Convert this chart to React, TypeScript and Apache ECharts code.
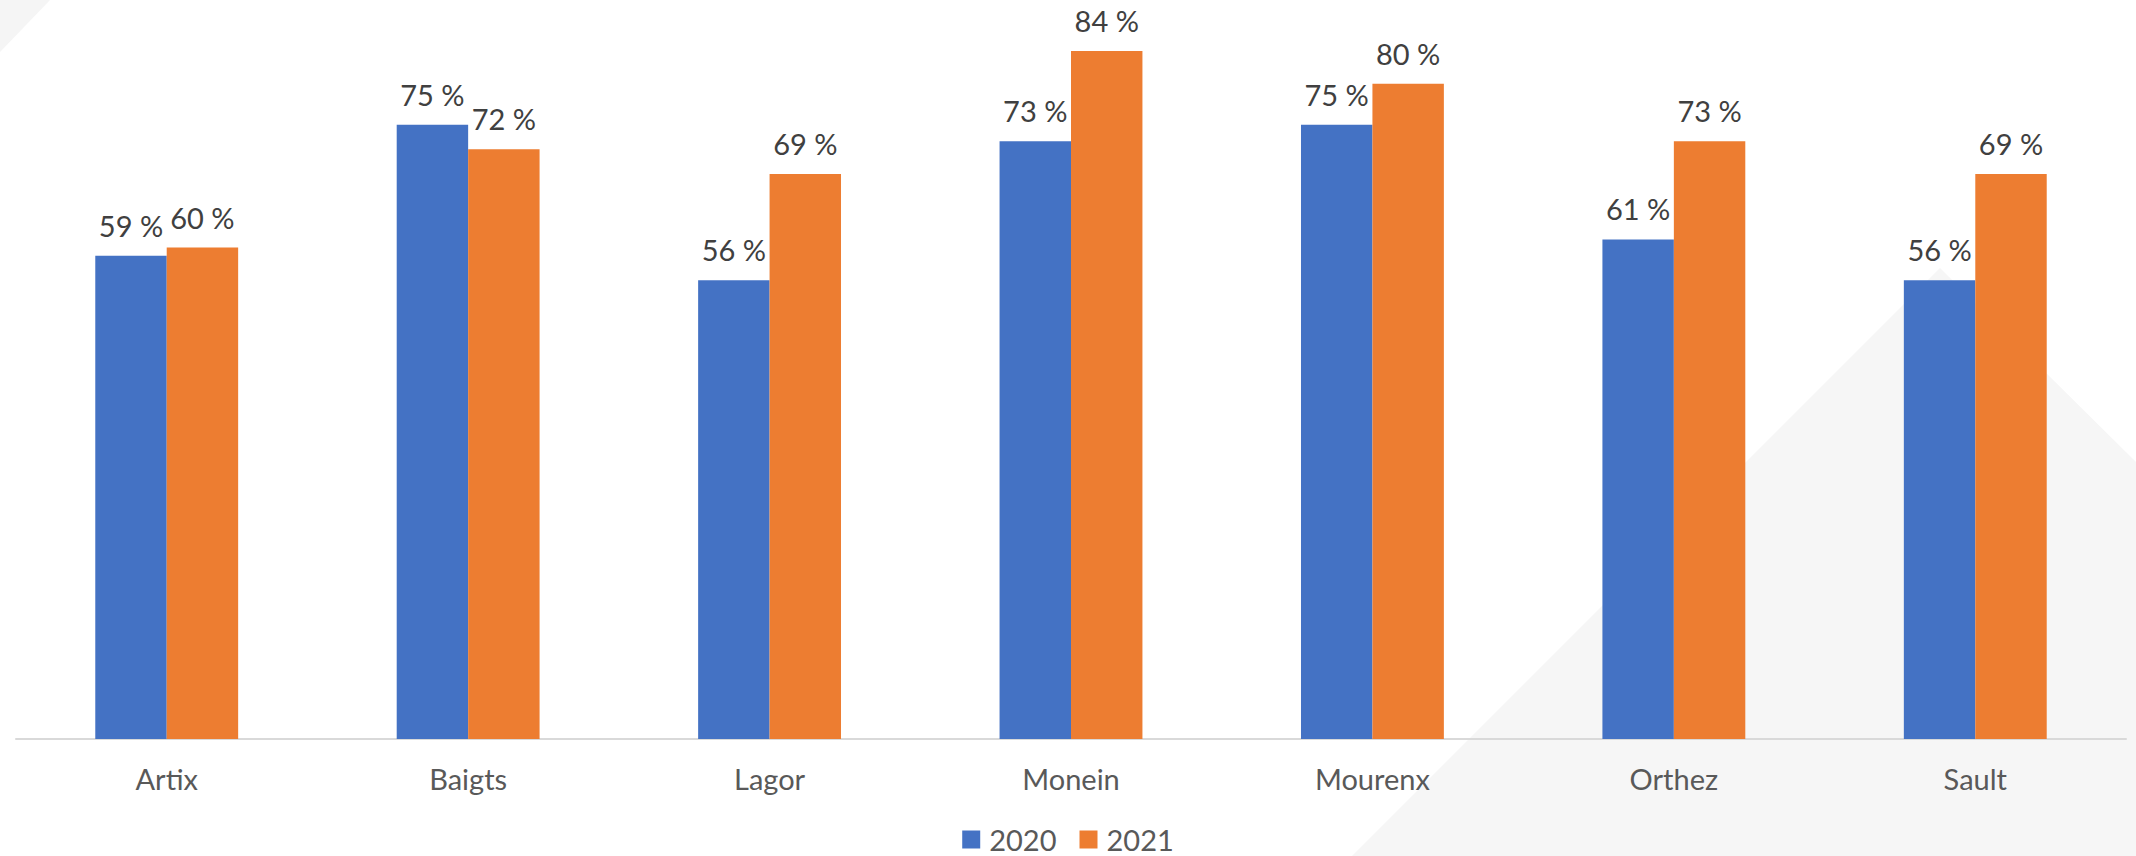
import React, { useEffect, useRef } from "react";
import * as echarts from "echarts";

const categories = ["Artix", "Baigts", "Lagor", "Monein", "Mourenx", "Orthez", "Sault"];
const values2020 = [59, 75, 56, 73, 75, 61, 56];
const values2021 = [60, 72, 69, 84, 80, 73, 69];
const seriesNames = ["2020", "2021"];

const FONT = "Lato, 'Noto Sans', sans-serif";

export default function App() {
  const ref = useRef<HTMLDivElement>(null);

  useEffect(() => {
    if (!ref.current) return;
    const chart = echarts.init(ref.current, null, { renderer: "svg" });
    const labelCfg = {
      show: true,
      position: "top",
      distance: 16,
      formatter: "{c} %",
      color: "#404040",
      fontSize: 29,
      fontFamily: FONT,
    };
    chart.setOption({
      animation: false,
      backgroundColor: "#ffffff",
      textStyle: { fontFamily: FONT },
      graphic: [
        {
          type: "polygon",
          z: 0,
          silent: true,
          shape: { points: [[0, 0], [50, 0], [0, 52]] },
          style: { fill: "#f5f5f5" },
        },
        {
          type: "polygon",
          z: 0,
          silent: true,
          shape: { points: [[1940, 268], [2136, 462], [2136, 856], [1352, 856]] },
          style: { fill: "#f6f6f6" },
        },
      ],
      grid: { left: 16, right: 10, top: 1.9, bottom: 117, containLabel: false },
      legend: {
        data: seriesNames,
        left: "center",
        top: 820,
        icon: "rect",
        itemWidth: 18,
        itemHeight: 18,
        itemGap: 23,
        textStyle: {
          color: "#595959",
          fontSize: 29,
          fontFamily: FONT,
          padding: [0, 0, 0, 4],
        },
      },
      xAxis: {
        type: "category",
        data: categories,
        axisLine: { show: true, lineStyle: { color: "#d9d9d9", width: 2 } },
        axisTick: { show: false },
        axisLabel: { color: "#595959", fontSize: 29, fontFamily: FONT, margin: 25 },
      },
      yAxis: {
        type: "value",
        min: 0,
        max: 90,
        show: false,
        splitLine: { show: false },
      },
      series: [
        {
          name: seriesNames[0],
          type: "bar",
          data: values2020,
          barGap: "0%",
          barCategoryGap: "52.6%",
          itemStyle: { color: "#4472C4" },
          label: labelCfg,
        },
        {
          name: seriesNames[1],
          type: "bar",
          data: values2021,
          barGap: "0%",
          barCategoryGap: "52.6%",
          itemStyle: { color: "#ED7D31" },
          label: labelCfg,
        },
      ],
    });
    return () => chart.dispose();
  }, []);

  return (
    <div
      ref={ref}
      style={{ position: "fixed", left: 0, top: 0, width: 2136, height: 856 }}
    />
  );
}
